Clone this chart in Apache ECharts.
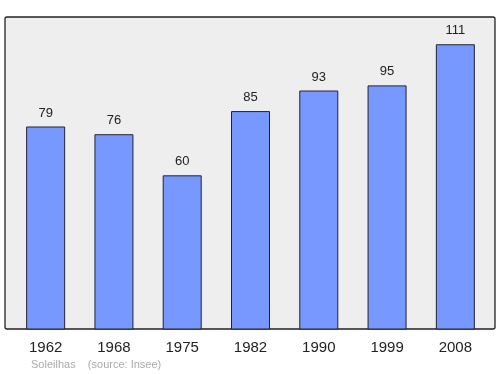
<!DOCTYPE html>
<html><head><meta charset="utf-8">
<script src="https://cdn.jsdelivr.net/npm/echarts@6/dist/echarts.min.js"></script>
<style>html,body{margin:0;padding:0;background:#fff}#c{width:500px;height:374px}</style>
</head><body><div id="c"></div>
<script>
const years = ['1962','1968','1975','1982','1990','1999','2008'];
const population = [79, 76, 60, 85, 93, 95, 111];
const footer = 'Soleilhas    (source: Insee)';

const FONT = '"Liberation Sans", Arial, sans-serif';
const chart = echarts.init(document.getElementById('c'), null, {renderer:'canvas'});
chart.setOption({
  animation: false,
  graphic: [
    {type:'rect', shape:{x:5, y:17, width:490, height:312, r:2}, style:{fill:'#eeeeee', stroke:'#222', lineWidth:1.3}, z:-10},
    {type:'text', left:31, top:359, style:{text:footer, fill:'#aaaaaa', font:'11px ' + FONT}}
  ],
  grid: {left:11.5, width:478, top:16, bottom:44.5},
  xAxis: {
    type:'category', data: years,
    axisLine:{show:false}, axisTick:{show:false},
    axisLabel:{color:'#222', fontSize:15, margin:11, fontFamily:FONT}
  },
  yAxis: {type:'value', min:0, max:122, show:false, splitLine:{show:false}},
  series: [{
    type:'bar', data: population, barWidth:39,
    itemStyle:{color:'#7799ff', borderColor:'#223', borderWidth:1},
    label:{show:true, position:'top', distance:7, color:'#222', fontSize:13, fontFamily:FONT}
  }]
});
</script></body></html>
